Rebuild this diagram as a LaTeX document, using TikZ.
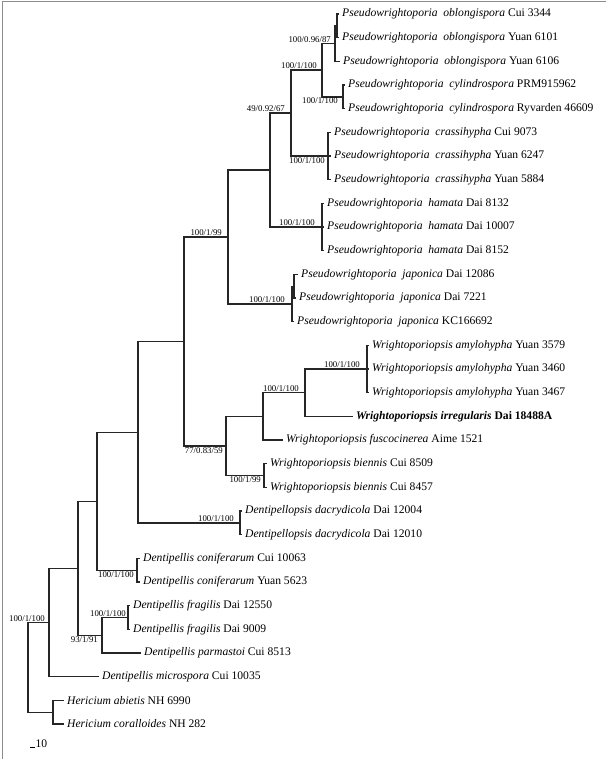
\documentclass[tikz,border=0pt]{standalone}
\usepackage{fontspec}
\setmainfont{Liberation Serif}
\colorlet{framegray}{black!45}
\newcommand{\taxon}[2]{\textit{#1} #2}
\tikzset{
  branch/.style={line width=1.4pt, line cap=rect, black!85},
  leaf/.style={anchor=west, inner xsep=4pt, inner ysep=1pt,
    font=\fontsize{11.6}{13}\selectfont},
  bs/.style={inner sep=1pt, font=\fontsize{8.8}{10}\selectfont}
}

\begin{document}
\begin{tikzpicture}[x=1pt,y=-1pt]
    \useasboundingbox (0,0) rectangle (606,759);
    % Frame
    \draw[framegray,line width=1pt] (2,759) -- (2,2) -- (606,2);
    % Leaves
    \node[leaf] (l1) at (338,14.0) {\taxon{Pseudowrightoporia\enspace oblongispora}{Cui 3344}};
    \node[leaf] (l2) at (338,37.7) {\taxon{Pseudowrightoporia\enspace oblongispora}{Yuan 6101}};
    \node[leaf] (l3) at (339,61.3) {\taxon{Pseudowrightoporia\enspace oblongispora}{Yuan 6106}};
    \node[leaf] (l4) at (344,85.0) {\taxon{Pseudowrightoporia\enspace cylindrospora}{PRM915962}};
    \node[leaf] (l5) at (344,108.7) {\taxon{Pseudowrightoporia\enspace cylindrospora}{Ryvarden 46609}};
    \node[leaf] (l6) at (330,132.3) {\taxon{Pseudowrightoporia\enspace crassihypha}{Cui 9073}};
    \node[leaf] (l7) at (330,156.0) {\taxon{Pseudowrightoporia\enspace crassihypha}{Yuan 6247}};
    \node[leaf] (l8) at (330,179.7) {\taxon{Pseudowrightoporia\enspace crassihypha}{Yuan 5884}};
    \node[leaf] (l9) at (323,203.3) {\taxon{Pseudowrightoporia\enspace hamata}{Dai 8132}};
    \node[leaf] (l10) at (323,227.0) {\taxon{Pseudowrightoporia\enspace hamata}{Dai 10007}};
    \node[leaf] (l11) at (323,250.7) {\taxon{Pseudowrightoporia\enspace hamata}{Dai 8152}};
    \node[leaf] (l12) at (297,274.3) {\taxon{Pseudowrightoporia\enspace japonica}{Dai 12086}};
    \node[leaf] (l13) at (295,298.0) {\taxon{Pseudowrightoporia\enspace japonica}{Dai 7221}};
    \node[leaf] (l14) at (293,321.7) {\taxon{Pseudowrightoporia\enspace japonica}{KC166692}};
    \node[leaf] (l15) at (368,345.4) {\taxon{Wrightoporiopsis amylohypha}{Yuan 3579}};
    \node[leaf] (l16) at (368,369.0) {\taxon{Wrightoporiopsis amylohypha}{Yuan 3460}};
    \node[leaf] (l17) at (368,392.7) {\taxon{Wrightoporiopsis amylohypha}{Yuan 3467}};
    \node[leaf] (l18) at (352,416.4) {\bfseries\taxon{Wrightoporiopsis irregularis}{Dai 18488A}};
    \node[leaf] (l19) at (282,440.0) {\taxon{Wrightoporiopsis fuscocinerea}{Aime 1521}};
    \node[leaf] (l20) at (266,463.7) {\taxon{Wrightoporiopsis biennis}{Cui 8509}};
    \node[leaf] (l21) at (266,487.4) {\taxon{Wrightoporiopsis biennis}{Cui 8457}};
    \node[leaf] (l22) at (241,511.0) {\taxon{Dentipellopsis dacrydicola}{Dai 12004}};
    \node[leaf] (l23) at (241,534.7) {\taxon{Dentipellopsis dacrydicola}{Dai 12010}};
    \node[leaf] (l24) at (139,558.4) {\taxon{Dentipellis coniferarum}{Cui 10063}};
    \node[leaf] (l25) at (139,582.0) {\taxon{Dentipellis coniferarum}{Yuan 5623}};
    \node[leaf] (l26) at (129,605.7) {\taxon{Dentipellis fragilis}{Dai 12550}};
    \node[leaf] (l27) at (129,629.4) {\taxon{Dentipellis fragilis}{Dai 9009}};
    \node[leaf] (l28) at (140,653.0) {\taxon{Dentipellis parmastoi}{Cui 8513}};
    \node[leaf] (l29) at (98,676.7) {\taxon{Dentipellis microspora}{Cui 10035}};
    \node[leaf] (l30) at (63,700.4) {\taxon{Hericium abietis}{NH 6990}};
    \node[leaf] (l31) at (63,724.0) {\taxon{Hericium coralloides}{NH 282}};
    % Inner nodes
    \coordinate (oblA) at (337,25.9);
    \coordinate (obl) at (335,43.6);
    \coordinate (cyl) at (343,96.9);
    \coordinate (oc) at (322,70.2);
    \coordinate (cra) at (328,156.0);
    \coordinate (p49) at (291,113.1);
    \coordinate (ham) at (322,227.0);
    \coordinate (q) at (270,170.0);
    \coordinate (jpA) at (294,286.2);
    \coordinate (jap) at (292,303.9);
    \coordinate (r) at (228,237.0);
    \coordinate (amy) at (367,369.0);
    \coordinate (w1) at (305,392.7);
    \coordinate (w2) at (263,416.4);
    \coordinate (bie) at (264,475.5);
    \coordinate (w3) at (226,446.0);
    \coordinate (s) at (184,341.5);
    \coordinate (dac) at (240,522.9);
    \coordinate (t) at (138,432.2);
    \coordinate (con) at (137,570.2);
    \coordinate (d) at (97,501.2);
    \coordinate (fra) at (128,617.6);
    \coordinate (c) at (102,635.3);
    \coordinate (b) at (78,568.2);
    \coordinate (a) at (49,622.5);
    \coordinate (her) at (53,712.2);
    \coordinate (root) at (28,667.3);
    % Branches
    \draw[branch] (oblA) |- (l1.west) (oblA) |- (l2.west);
    \draw[branch] (obl) |- (oblA) (obl) |- (l3.west);
    \draw[branch] (cyl) |- (l4.west) (cyl) |- (l5.west);
    \draw[branch] (oc) |- (obl) (oc) |- (cyl);
    \draw[branch] (cra) |- (l6.west) (cra) |- (l7.west) (cra) |- (l8.west);
    \draw[branch] (p49) |- (oc) (p49) |- (cra);
    \draw[branch] (ham) |- (l9.west) (ham) |- (l10.west) (ham) |- (l11.west);
    \draw[branch] (q) |- (p49) (q) |- (ham);
    \draw[branch] (jpA) |- (l12.west) (jpA) |- (l13.west);
    \draw[branch] (jap) |- (jpA) (jap) |- (l14.west);
    \draw[branch] (r) |- (q) (r) |- (jap);
    \draw[branch] (amy) |- (l15.west) (amy) |- (l16.west) (amy) |- (l17.west);
    \draw[branch] (w1) |- (amy) (w1) |- (l18.west);
    \draw[branch] (w2) |- (w1) (w2) |- (l19.west);
    \draw[branch] (bie) |- (l20.west) (bie) |- (l21.west);
    \draw[branch] (w3) |- (w2) (w3) |- (bie);
    \draw[branch] (s) |- (r) (s) |- (w3);
    \draw[branch] (dac) |- (l22.west) (dac) |- (l23.west);
    \draw[branch] (t) |- (s) (t) |- (dac);
    \draw[branch] (con) |- (l24.west) (con) |- (l25.west);
    \draw[branch] (d) |- (t) (d) |- (con);
    \draw[branch] (fra) |- (l26.west) (fra) |- (l27.west);
    \draw[branch] (c) |- (fra) (c) |- (l28.west);
    \draw[branch] (b) |- (d) (b) |- (c);
    \draw[branch] (a) |- (b) (a) |- (l29.west);
    \draw[branch] (her) |- (l30.west) (her) |- (l31.west);
    \draw[branch] (root) |- (a) (root) |- (her);
    % Support values
    \node[bs,anchor=south east] (vobl) at ([xshift=-3pt]obl) {100/0.96/87};
    \node[bs,anchor=south east] (voc) at ([xshift=-4pt]oc) {100/1/100};
    \node[bs,anchor=north east] (vcyl) at ([xshift=-4pt]cyl) {100/1/100};
    \node[bs,anchor=south east] (vp49) at ([xshift=-5pt]p49) {49/0.92/67};
    \node[bs,anchor=north east] (vcra) at ([xshift=-2pt]cra) {100/1/100};
    \node[bs,anchor=south east] (vham) at ([xshift=-6pt]ham) {100/1/100};
    \node[bs,anchor=south east] (vjap) at ([xshift=-6pt]jap) {100/1/100};
    \node[bs,anchor=south east] (vr) at ([xshift=-5pt]r) {100/1/99};
    \node[bs,anchor=south east] (vamy) at ([xshift=-6pt]amy) {100/1/100};
    \node[bs,anchor=south east] (vw1) at ([xshift=-5pt]w1) {100/1/100};
    \node[bs,anchor=north east] (vw3) at ([xshift=-2pt]w3) {77/0.83/59};
    \node[bs,anchor=north east] (vbie) at ([xshift=-2pt]bie) {100/1/99};
    \node[bs,anchor=south east] (vdac) at ([xshift=-5pt]dac) {100/1/100};
    \node[bs,anchor=north east] (vcon) at ([xshift=-2pt]con) {100/1/100};
    \node[bs,anchor=south east] (vfra) at ([xshift=-1pt]fra) {100/1/100};
    \node[bs,anchor=north east] (vc) at ([xshift=-3pt]c) {93/1/91};
    \node[bs,anchor=south east] (va) at ([xshift=-3pt]a) {100/1/100};
    % Scale bar
    \coordinate (sb) at (30,747.5);
    \draw[line width=1pt] (sb) -- +(4.5,0) node[anchor=base west,inner sep=0.5pt,
      font=\fontsize{11.6}{13}\selectfont] (sbl) {10};
\end{tikzpicture}
\end{document}
